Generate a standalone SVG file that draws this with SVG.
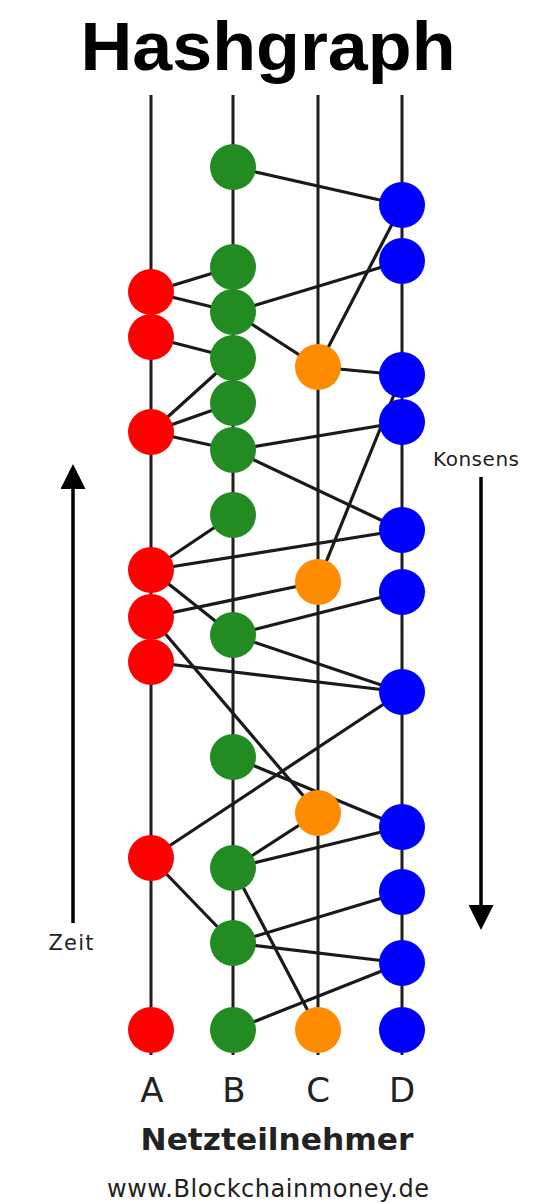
<svg xmlns="http://www.w3.org/2000/svg" width="536" height="1203" viewBox="0 0 536 1203">
  <style>
    .lane { stroke: #1e1e1e; stroke-width: 3; }
    .edge { stroke: #1a1a1a; stroke-width: 3.2; stroke-linecap: round; }
    .axis { stroke: #000; stroke-width: 3.5; }
    .a { fill: #ff0000; }
    .b { fill: #228b22; }
    .c { fill: #ff8c00; }
    .d { fill: #0000ff; }
    .title { font-family: "Liberation Sans", Arial, sans-serif; font-weight: bold; font-size: 68px; fill: #000; }
    .lbl { font-family: "DejaVu Sans", Verdana, sans-serif; fill: #222; }
  </style>
  <defs>
    <marker id="head" viewBox="0 0 26 25" refX="0" refY="12.5" markerWidth="26" markerHeight="25" markerUnits="userSpaceOnUse" orient="auto">
      <path d="M0,0 L25,12.5 L0,25 Z" fill="#000"/>
    </marker>
  </defs>
  <rect width="536" height="1203" fill="#ffffff"/>

  <text class="title" x="268" y="70" text-anchor="middle" textLength="375" lengthAdjust="spacingAndGlyphs">Hashgraph</text>

  <g id="lanes">
    <line class="lane" x1="151" y1="95" x2="151" y2="1055"/>
    <line class="lane" x1="233" y1="95" x2="233" y2="1055"/>
    <line class="lane" x1="318" y1="95" x2="318" y2="1055"/>
    <line class="lane" x1="402" y1="95" x2="402" y2="1055"/>
  </g>

  <g id="connectors">
    <line class="edge" x1="233" y1="167" x2="402" y2="205"/>
    <line class="edge" x1="402" y1="205" x2="318" y2="367"/>
    <line class="edge" x1="151" y1="292" x2="233" y2="267"/>
    <line class="edge" x1="151" y1="292" x2="233" y2="312"/>
    <line class="edge" x1="233" y1="312" x2="318" y2="367"/>
    <line class="edge" x1="233" y1="312" x2="402" y2="261"/>
    <line class="edge" x1="151" y1="337" x2="233" y2="358"/>
    <line class="edge" x1="151" y1="432" x2="233" y2="358"/>
    <line class="edge" x1="151" y1="432" x2="233" y2="403"/>
    <line class="edge" x1="151" y1="432" x2="233" y2="450"/>
    <line class="edge" x1="318" y1="367" x2="402" y2="375"/>
    <line class="edge" x1="402" y1="375" x2="318" y2="582"/>
    <line class="edge" x1="233" y1="450" x2="402" y2="422"/>
    <line class="edge" x1="233" y1="450" x2="402" y2="530"/>
    <line class="edge" x1="233" y1="515" x2="151" y2="570"/>
    <line class="edge" x1="151" y1="570" x2="402" y2="530"/>
    <line class="edge" x1="151" y1="617" x2="318" y2="582"/>
    <line class="edge" x1="151" y1="570" x2="233" y2="635"/>
    <line class="edge" x1="233" y1="635" x2="402" y2="592"/>
    <line class="edge" x1="233" y1="635" x2="402" y2="692"/>
    <line class="edge" x1="151" y1="662" x2="402" y2="692"/>
    <line class="edge" x1="151" y1="617" x2="318" y2="813"/>
    <line class="edge" x1="233" y1="757" x2="402" y2="827"/>
    <line class="edge" x1="402" y1="692" x2="151" y2="858"/>
    <line class="edge" x1="151" y1="858" x2="233" y2="943"/>
    <line class="edge" x1="233" y1="868" x2="318" y2="813"/>
    <line class="edge" x1="233" y1="868" x2="402" y2="827"/>
    <line class="edge" x1="233" y1="868" x2="318" y2="1030"/>
    <line class="edge" x1="233" y1="943" x2="402" y2="892"/>
    <line class="edge" x1="233" y1="943" x2="402" y2="963"/>
    <line class="edge" x1="233" y1="1030" x2="402" y2="963"/>
  </g>

  <g id="nodes-A">
    <circle id="A1" class="a" cx="151" cy="292" r="23"/>
    <circle id="A2" class="a" cx="151" cy="337" r="23"/>
    <circle id="A3" class="a" cx="151" cy="432" r="23"/>
    <circle id="A4" class="a" cx="151" cy="570" r="23"/>
    <circle id="A5" class="a" cx="151" cy="617" r="23"/>
    <circle id="A6" class="a" cx="151" cy="662" r="23"/>
    <circle id="A7" class="a" cx="151" cy="858" r="23"/>
    <circle id="A8" class="a" cx="151" cy="1030" r="23"/>
  </g>
  <g id="nodes-B">
    <circle id="B1" class="b" cx="233" cy="167" r="23"/>
    <circle id="B2" class="b" cx="233" cy="267" r="23"/>
    <circle id="B3" class="b" cx="233" cy="312" r="23"/>
    <circle id="B4" class="b" cx="233" cy="358" r="23"/>
    <circle id="B5" class="b" cx="233" cy="403" r="23"/>
    <circle id="B6" class="b" cx="233" cy="450" r="23"/>
    <circle id="B7" class="b" cx="233" cy="515" r="23"/>
    <circle id="B8" class="b" cx="233" cy="635" r="23"/>
    <circle id="B9" class="b" cx="233" cy="757" r="23"/>
    <circle id="B10" class="b" cx="233" cy="868" r="23"/>
    <circle id="B11" class="b" cx="233" cy="943" r="23"/>
    <circle id="B12" class="b" cx="233" cy="1030" r="23"/>
  </g>
  <g id="nodes-C">
    <circle id="C1" class="c" cx="318" cy="367" r="23"/>
    <circle id="C2" class="c" cx="318" cy="582" r="23"/>
    <circle id="C3" class="c" cx="318" cy="813" r="23"/>
    <circle id="C4" class="c" cx="318" cy="1030" r="23"/>
  </g>
  <g id="nodes-D">
    <circle id="D1" class="d" cx="402" cy="205" r="23"/>
    <circle id="D2" class="d" cx="402" cy="261" r="23"/>
    <circle id="D3" class="d" cx="402" cy="375" r="23"/>
    <circle id="D4" class="d" cx="402" cy="422" r="23"/>
    <circle id="D5" class="d" cx="402" cy="530" r="23"/>
    <circle id="D6" class="d" cx="402" cy="592" r="23"/>
    <circle id="D7" class="d" cx="402" cy="692" r="23"/>
    <circle id="D8" class="d" cx="402" cy="827" r="23"/>
    <circle id="D9" class="d" cx="402" cy="892" r="23"/>
    <circle id="D10" class="d" cx="402" cy="963" r="23"/>
    <circle id="D11" class="d" cx="402" cy="1030" r="23"/>
  </g>

  <g id="zeit">
    <line class="axis" x1="73" y1="923" x2="73" y2="489" marker-end="url(#head)"/>
    <text class="lbl" x="71" y="950" font-size="21" text-anchor="middle" textLength="45">Zeit</text>
  </g>
  <g id="konsens">
    <line class="axis" x1="481" y1="477" x2="481" y2="905" marker-end="url(#head)"/>
    <text class="lbl" x="476" y="466" font-size="20" text-anchor="middle" textLength="86">Konsens</text>
  </g>

  <g id="labels">
    <text class="lbl" x="152" y="1102" font-size="34" text-anchor="middle" fill="#333">A</text>
    <text class="lbl" x="234" y="1102" font-size="34" text-anchor="middle" fill="#333">B</text>
    <text class="lbl" x="318" y="1102" font-size="34" text-anchor="middle" fill="#333">C</text>
    <text class="lbl" x="402" y="1102" font-size="34" text-anchor="middle" fill="#333">D</text>
    <text class="lbl" x="277" y="1150" font-size="31" font-weight="bold" text-anchor="middle" fill="#111" textLength="273" lengthAdjust="spacingAndGlyphs">Netzteilnehmer</text>
    <text class="lbl" x="268" y="1197" font-size="24" text-anchor="middle" fill="#222" textLength="322">www.Blockchainmoney.de</text>
  </g>
</svg>
